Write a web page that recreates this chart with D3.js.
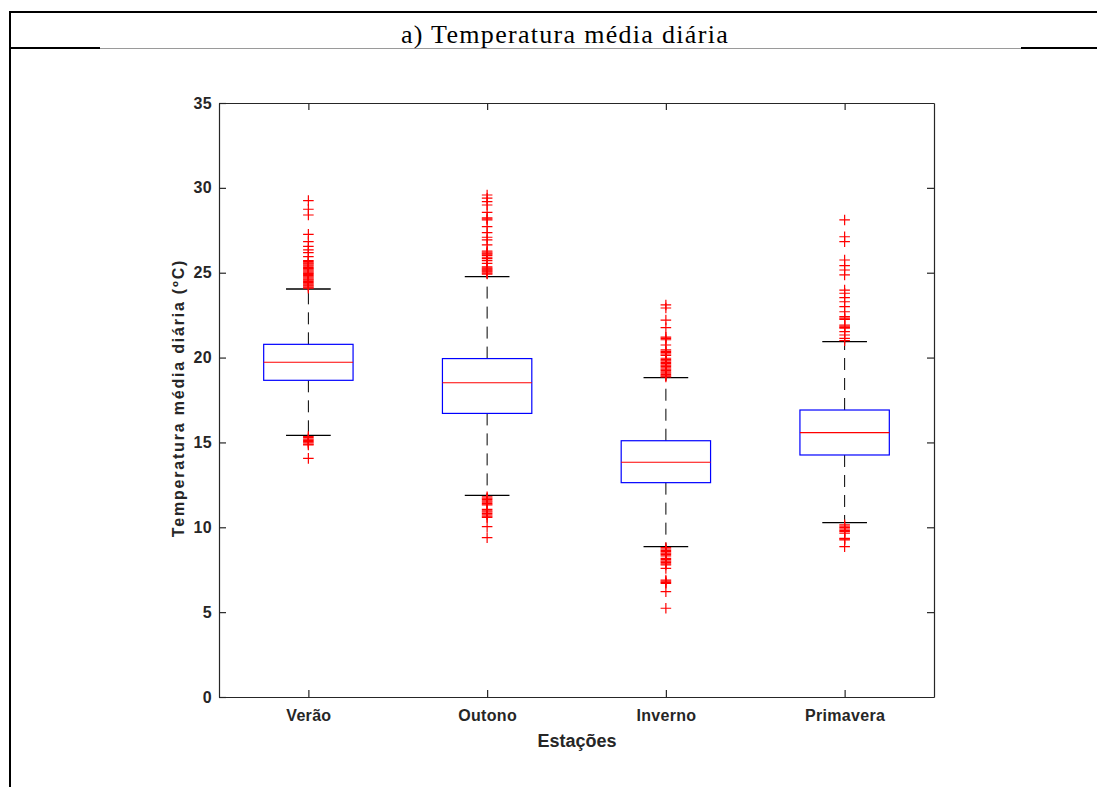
<!DOCTYPE html>
<html>
<head>
<meta charset="utf-8">
<script src="https://cdn.jsdelivr.net/npm/d3@7"></script>
<style>
  html, body { margin: 0; padding: 0; background: #fff; }
  svg { display: block; }
  .tick text { font-family: "Liberation Sans", Arial, Helvetica, sans-serif; font-weight: bold; font-size: 16px; letter-spacing: 0.3px; fill: #262626; }
  .tick line, .domain { stroke: #262626; }
</style>
</head>
<body>
<svg id="chart" width="1097" height="787"></svg>
<script>
// Daily mean temperature per season: box statistics and outliers (°C)
const categories = ["Verão", "Outono", "Inverno", "Primavera"];
const q1Values = [18.66, 16.71, 12.63, 14.26];
const medianValues = [19.72, 18.52, 13.83, 15.58];
const q3Values = [20.78, 19.94, 15.10, 16.91];
const whiskerLow = [15.42, 11.88, 8.86, 10.27];
const whiskerHigh = [24.04, 24.77, 18.82, 20.94];

const outliersVerao = [29.25, 28.74, 28.40, 27.26, 26.83, 26.55, 26.34, 26.18, 25.95,
  25.72, 25.65, 25.58, 25.52, 25.45, 25.38, 25.30, 25.24, 25.17, 25.10, 25.03, 24.96,
  24.90, 24.83, 24.76, 24.69, 24.62, 24.56, 24.49, 24.42, 24.35, 24.28, 24.22, 24.15, 24.09,
  15.35, 15.28, 15.20, 15.12, 15.05, 14.98, 14.90, 14.85, 14.06];
const outliersOutono = [29.58, 29.39, 29.19, 28.99, 28.56, 28.24, 28.18, 28.11, 27.71,
  27.36, 27.09, 26.93, 26.64, 26.28, 26.22, 26.16, 26.10, 26.02, 25.91, 25.83, 25.71,
  25.55, 25.35, 25.29, 25.23, 25.17, 25.11, 25.05, 24.98, 24.92,
  11.80, 11.72, 11.64, 11.56, 11.48, 11.40, 11.32, 11.05, 10.97, 10.90, 10.82, 10.74,
  10.66, 10.58, 10.04, 9.39];
const outliersInverno = [23.10, 22.92, 22.21, 21.76, 21.20, 21.13, 21.05, 20.74, 20.45,
  20.37, 20.29, 20.21, 20.13, 19.96, 19.88, 19.80, 19.72, 19.64, 19.56, 19.48, 19.40,
  19.32, 19.24, 19.16, 19.08, 19.00, 18.92, 18.86,
  8.80, 8.72, 8.64, 8.56, 8.48, 8.40, 8.32, 8.17, 8.09, 8.01, 7.93, 7.85, 7.78, 7.58,
  6.89, 6.82, 6.75, 6.70, 6.21, 5.23];
const outliersPrimavera = [28.11, 27.12, 26.83, 25.75, 25.42, 25.16, 24.87, 23.98, 23.79,
  23.53, 23.29, 23.00, 22.70, 22.41, 22.33, 22.25, 21.92, 21.85, 21.78, 21.73, 21.53,
  21.33, 21.13, 21.00,
  10.14, 10.06, 9.98, 9.90, 9.82, 9.74, 9.65, 9.35, 9.30, 9.25, 8.86];
const outlierSets = [outliersVerao, outliersOutono, outliersInverno, outliersPrimavera];

const yTicks = [0, 5, 10, 15, 20, 25, 30, 35];

const svg = d3.select("#chart");

// Table frame with the caption row
svg.append("line").attr("x1", 9).attr("x2", 1097).attr("y1", 12).attr("y2", 12)
  .attr("stroke", "#000").attr("stroke-width", 2);
svg.append("line").attr("x1", 10).attr("x2", 10).attr("y1", 11).attr("y2", 787)
  .attr("stroke", "#000").attr("stroke-width", 2);
svg.append("line").attr("x1", 9).attr("x2", 100).attr("y1", 48).attr("y2", 48)
  .attr("stroke", "#000").attr("stroke-width", 2);
svg.append("line").attr("x1", 1021).attr("x2", 1097).attr("y1", 48).attr("y2", 48)
  .attr("stroke", "#000").attr("stroke-width", 2);
svg.append("line").attr("x1", 100).attr("x2", 1021).attr("y1", 48.5).attr("y2", 48.5)
  .attr("stroke", "#9a9a9a").attr("stroke-width", 1.2);
svg.append("text").attr("x", 565).attr("y", 42.5)
  .attr("text-anchor", "middle")
  .style("font-family", "'Liberation Serif', 'Times New Roman', serif")
  .style("font-size", "26px").style("letter-spacing", "1.3px").style("fill", "#000")
  .text("a) Temperatura média diária");

// Plot area
const plotLeft = 219, plotRight = 934, plotTop = 103, plotBottom = 697;
const x = d3.scalePoint().domain(categories).range([plotLeft, plotRight]).padding(0.5);
const y = d3.scaleLinear().domain([0, 35]).range([plotBottom, plotTop]);
const step = x.step();
const boxW = step * 0.5;
const capW = step * 0.25;

const g = svg.append("g");

// Axes (ticks point inward on all four sides)
g.append("g").attr("transform", `translate(${plotLeft},0)`)
  .call(d3.axisLeft(y).tickValues(yTicks).tickSize(-7).tickSizeOuter(0).tickPadding(7));
g.append("g").attr("transform", `translate(${plotRight},0)`)
  .call(d3.axisRight(y).tickValues(yTicks.slice(1, -1)).tickSize(-7).tickSizeOuter(0).tickFormat(""));
g.append("g").attr("transform", `translate(0,${plotBottom})`)
  .call(d3.axisBottom(x).tickSize(-7).tickSizeOuter(0).tickPadding(12.3));
g.append("g").attr("transform", `translate(0,${plotTop})`)
  .call(d3.axisTop(x).tickSize(-7).tickSizeOuter(0).tickFormat(""));
g.selectAll(".domain").attr("stroke-width", 1.2);
g.selectAll(".tick line").attr("stroke-width", 1.2);

// Boxes
const boxes = g.selectAll(".box").data(categories).join("g").attr("class", "box");

boxes.append("line")
  .attr("x1", d => x(d)).attr("x2", d => x(d))
  .attr("y1", (d, i) => y(q3Values[i])).attr("y2", (d, i) => y(whiskerHigh[i]))
  .attr("stroke", "#000").attr("stroke-dasharray", "12,8");
boxes.append("line")
  .attr("x1", d => x(d)).attr("x2", d => x(d))
  .attr("y1", (d, i) => y(q1Values[i])).attr("y2", (d, i) => y(whiskerLow[i]))
  .attr("stroke", "#000").attr("stroke-dasharray", "12,8");
boxes.append("line")
  .attr("x1", d => x(d) - capW / 2).attr("x2", d => x(d) + capW / 2)
  .attr("y1", (d, i) => y(whiskerHigh[i])).attr("y2", (d, i) => y(whiskerHigh[i]))
  .attr("stroke", "#000").attr("stroke-width", 1.3);
boxes.append("line")
  .attr("x1", d => x(d) - capW / 2).attr("x2", d => x(d) + capW / 2)
  .attr("y1", (d, i) => y(whiskerLow[i])).attr("y2", (d, i) => y(whiskerLow[i]))
  .attr("stroke", "#000").attr("stroke-width", 1.3);
boxes.append("rect")
  .attr("x", d => x(d) - boxW / 2).attr("width", boxW)
  .attr("y", (d, i) => y(q3Values[i]))
  .attr("height", (d, i) => y(q1Values[i]) - y(q3Values[i]))
  .attr("fill", "none").attr("stroke", "#0000ff").attr("stroke-width", 1.2);
boxes.append("line")
  .attr("x1", d => x(d) - boxW / 2).attr("x2", d => x(d) + boxW / 2)
  .attr("y1", (d, i) => y(medianValues[i])).attr("y2", (d, i) => y(medianValues[i]))
  .attr("stroke", "#ff0000").attr("stroke-width", 1.1);

// Outliers as '+' markers
const pts = categories.flatMap((c, i) => outlierSets[i].map(v => ({ c, v })));
const arm = 5.3;
g.append("g").selectAll("path").data(pts).join("path")
  .attr("d", d => {
    const cx = x(d.c), cy = y(d.v);
    return `M${cx - arm},${cy}H${cx + arm}M${cx},${cy - arm}V${cy + arm}`;
  })
  .attr("stroke", "#ff0000").attr("stroke-width", 1.2).attr("fill", "none");

// Axis titles
svg.append("text")
  .attr("transform", `translate(183.5,398) rotate(-90)`)
  .attr("text-anchor", "middle")
  .style("font-family", "'Liberation Sans', Arial, sans-serif")
  .style("font-weight", "bold").style("font-size", "16px").style("letter-spacing", "1.8px")
  .style("fill", "#262626")
  .text("Temperatura média diária (ºC)");
svg.append("text")
  .attr("x", 577).attr("y", 746.5)
  .attr("text-anchor", "middle")
  .style("font-family", "'Liberation Sans', Arial, sans-serif")
  .style("font-weight", "bold").style("font-size", "18px").style("fill", "#262626")
  .text("Estações");
</script>
</body>
</html>
